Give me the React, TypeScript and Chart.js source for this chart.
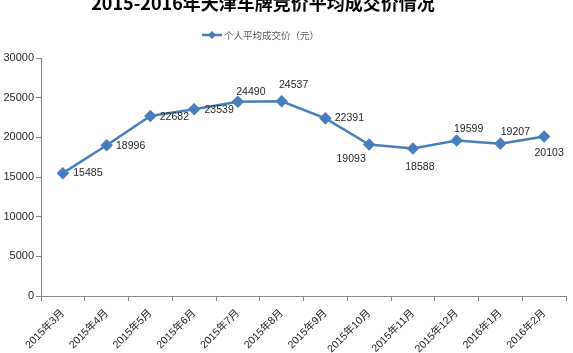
import React, { useEffect, useRef } from "react";
import { Chart, registerables } from "chart.js";

Chart.register(...registerables);

const categories = [
  "2015年3月", "2015年4月", "2015年5月", "2015年6月", "2015年7月", "2015年8月",
  "2015年9月", "2015年10月", "2015年11月", "2015年12月", "2016年1月", "2016年2月",
];
const avgPrice = [15485, 18996, 22682, 23539, 24490, 24537, 22391, 19093, 18588, 19599, 19207, 20103];
const seriesName = "个人平均成交价（元）";
const titleText = "2015-2016年天津车牌竞价平均成交价情况";
const yTicks = [0, 5000, 10000, 15000, 20000, 25000, 30000];

// label offsets (style only): [dx, dy] from the point to the label centre
const labelOffsets: [number, number][] = [
  [25, 0], [24, 1], [24, 1], [25, 1], [13, -10], [12, -16],
  [24, 0], [-18, 15], [7, 19], [12, -11], [15, -12], [5, 17],
];

const BLUE = "#4A7EBB";
const LATIN = '"Liberation Sans", "Noto Sans CJK SC", sans-serif';

function drawDiamond(ctx: CanvasRenderingContext2D, x: number, y: number, r: number) {
  ctx.beginPath();
  ctx.moveTo(x, y - r);
  ctx.lineTo(x + r, y);
  ctx.lineTo(x, y + r);
  ctx.lineTo(x - r, y);
  ctx.closePath();
  ctx.fill();
}

const decorPlugin = {
  id: "decor",
  afterDatasetsDraw(chart: any) {
    const ctx: CanvasRenderingContext2D = chart.ctx;
    ctx.save();
    // data labels
    const meta = chart.getDatasetMeta(0);
    ctx.font = `10.5px ${LATIN}`;
    ctx.fillStyle = "#262626";
    ctx.textAlign = "center";
    ctx.textBaseline = "middle";
    meta.data.forEach((pt: any, i: number) => {
      const [dx, dy] = labelOffsets[i] || [0, -12];
      ctx.fillText(String(avgPrice[i]), pt.x + dx, pt.y + dy);
    });
    // title
    ctx.font = 'bold 18px "Noto Sans CJK SC", sans-serif';
    ctx.fillStyle = "#000";
    ctx.textAlign = "center";
    ctx.textBaseline = "middle";
    ctx.fillText(titleText, 263, 3);
    // legend
    ctx.strokeStyle = BLUE;
    ctx.lineWidth = 2.5;
    ctx.beginPath();
    ctx.moveTo(202, 35);
    ctx.lineTo(222, 35);
    ctx.stroke();
    ctx.fillStyle = BLUE;
    drawDiamond(ctx, 212, 35, 4);
    ctx.font = '9.5px "Noto Sans CJK SC", sans-serif';
    ctx.fillStyle = "#595959";
    ctx.textAlign = "left";
    ctx.fillText(seriesName, 224, 35);
    ctx.restore();
  },
};

export default function App() {
  const ref = useRef<HTMLCanvasElement | null>(null);
  useEffect(() => {
    document.body.style.margin = "0";
    const canvas = ref.current!;
    const chart = new Chart(canvas, {
      type: "line",
      data: {
        labels: categories,
        datasets: [
          {
            label: seriesName,
            data: avgPrice,
            borderColor: BLUE,
            backgroundColor: BLUE,
            borderWidth: 2.5,
            pointStyle: "rectRot",
            pointRadius: 4.5,
            pointBackgroundColor: BLUE,
            pointBorderColor: BLUE,
            tension: 0,
          },
        ],
      },
      options: {
        animation: false,
        responsive: false,
        devicePixelRatio: 1,
        layout: { padding: { top: 58, right: 4, left: 0, bottom: 0 } },
        plugins: { legend: { display: false }, title: { display: false }, tooltip: { enabled: false } },
        scales: {
          x: {
            type: "category",
            offset: true,
            grid: { offset: true, drawOnChartArea: false, tickLength: 5, color: "#868686" },
            border: { color: "#868686", width: 1 },
            ticks: {
              autoSkip: false,
              maxRotation: 45,
              minRotation: 45,
              padding: 6,
              color: "#1a1a1a",
              font: { family: LATIN, size: 10.5 },
            },
            afterFit(scale: any) {
              scale.height = 57;
            },
          },
          y: {
            min: 0,
            max: 30000,
            afterBuildTicks(scale: any) {
              scale.ticks = yTicks.map((v) => ({ value: v }));
            },
            grid: { drawOnChartArea: false, tickLength: 5, color: "#868686" },
            border: { color: "#868686", width: 1 },
            ticks: {
              padding: 2,
              color: "#262626",
              font: { family: LATIN, size: 11 },
              callback: (v: any) => String(v),
            },
            afterFit(scale: any) {
              scale.width = 41;
            },
          },
        },
      },
      plugins: [decorPlugin],
    });
    return () => chart.destroy();
  }, []);
  return (
    <div style={{ width: 573, height: 353, background: "#fff" }}>
      <canvas ref={ref} width={573} height={353} style={{ display: "block" }} />
    </div>
  );
}
